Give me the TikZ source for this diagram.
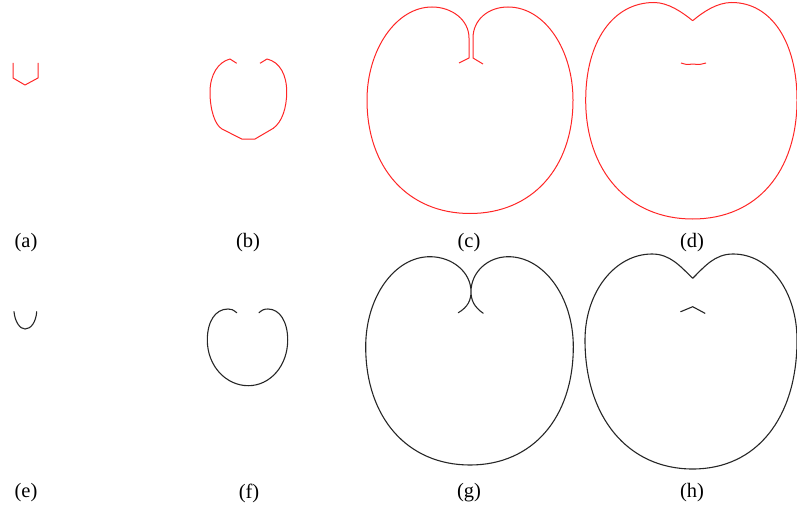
\documentclass[tikz,border=0pt]{standalone}
\usepackage{fontspec}
\setmainfont{Liberation Serif}
\begin{document}
\begin{tikzpicture}[x=1pt,y=-1pt,
  redc/.style={draw=red!85!white, line width=1pt, line join=round},
  blkc/.style={draw=black!85, line width=1.1pt, line join=round, line cap=round},
  lab/.style={font=\fontsize{20.5}{24}\selectfont, inner sep=0pt}]
\useasboundingbox (0,0) rectangle (797,508);
% (a)
\draw[redc] (13,63) -- (13,78) -- (25,85) -- (38,78) -- (38,63);
% (b)
\draw[redc] (236.7,63.3) -- (230,59) .. controls (218,62) and (210,75) .. (210,92)
  .. controls (210,110) and (215,125) .. (222,129) -- (241.7,139) -- (255,139) -- (273.3,128.3)
  .. controls (282,122) and (286.7,108) .. (286.7,92) .. controls (286.7,75) and (280,62) .. (267,59) -- (260,63.3);
% (c)
\draw[redc] (459,63) -- (469,58) -- (469,38) .. controls (469,20) and (452,7) .. (432,7)
  .. controls (396,7) and (367,50) .. (367,100) .. controls (367,168) and (408,213.5) .. (470,213.5)
  .. controls (532,213.5) and (573,168) .. (573,100) .. controls (573,50) and (545,7) .. (508,7)
  .. controls (488,7) and (473,20) .. (473,38) -- (473,58) -- (483,64);
% (d)
\draw[redc] (692.7,20.7) .. controls (682,12) and (668,2.5) .. (654,2.5)
  .. controls (613,2.5) and (585.7,41.5) .. (585.7,100) .. controls (585.7,171.4) and (628.5,219) .. (692.7,219)
  .. controls (757,219) and (797,171.4) .. (797,100) .. controls (797,41.5) and (771,2.5) .. (731.7,2.5)
  .. controls (717,2.5) and (703,12) .. (692.7,20.7);
\draw[redc] plot[smooth, tension=0.5] coordinates {(681,63) (687,64.5) (693,64) (699,64.5) (706,63)};
% (e)
\draw[blkc] (14,311.7) .. controls (15,322) and (20,329) .. (25,329) .. controls (31,329) and (36,322) .. (36.7,311.7);
% (f)
\draw[blkc] (236.7,312.7) .. controls (233,309.5) and (231,309) .. (228,309)
  .. controls (215,309) and (207.3,322) .. (207.3,340) .. controls (207.3,366) and (226,385.7) .. (248.3,385.7)
  .. controls (270,385.7) and (287.7,366) .. (287.7,340) .. controls (287.7,322) and (280,309) .. (268,309)
  .. controls (264,309) and (262,310) .. (259,312.7);
% (g)
\draw[blkc] (483.3,313.3) .. controls (474,307) and (471,300) .. (471,291.7)
  .. controls (471,272) and (452,256.7) .. (430,256.7)
  .. controls (394.5,256.7) and (365.7,297) .. (365.7,346.7)
  .. controls (365.7,417.7) and (407.4,465) .. (470,465)
  .. controls (532.6,465) and (573.3,417.7) .. (573.3,346.7)
  .. controls (573.3,297) and (543.8,256.7) .. (508.3,256.7)
  .. controls (488,256.7) and (471,272) .. (471,291.7)
  .. controls (471,300) and (468,307) .. (458.3,312.7);
% (h)
\draw[blkc] (692.7,278.3) .. controls (680,266) and (670,254) .. (652,254)
  .. controls (615,254) and (585,292) .. (585,340)
  .. controls (585,417.4) and (628,469) .. (692.7,469)
  .. controls (757,469) and (797,417.4) .. (797,340)
  .. controls (797,292) and (770,254) .. (733,254)
  .. controls (715,254) and (705,266) .. (692.7,278.3);
\draw[blkc] (680.7,311.7) -- (692.7,306.7) -- (705,313.3);
% labels
\node[lab] (la) at (26,242.5) {(a)};
\node[lab] (lb) at (248,242.5) {(b)};
\node[lab] (lc) at (469,242.5) {(c)};
\node[lab] (ld) at (692,242.5) {(d)};
\node[lab] (le) at (26,493) {(e)};
\node[lab] (lf) at (249,493) {(f)};
\node[lab] (lg) at (469,493) {(g)};
\node[lab] (lh) at (692,493) {(h)};
\end{tikzpicture}
\end{document}
